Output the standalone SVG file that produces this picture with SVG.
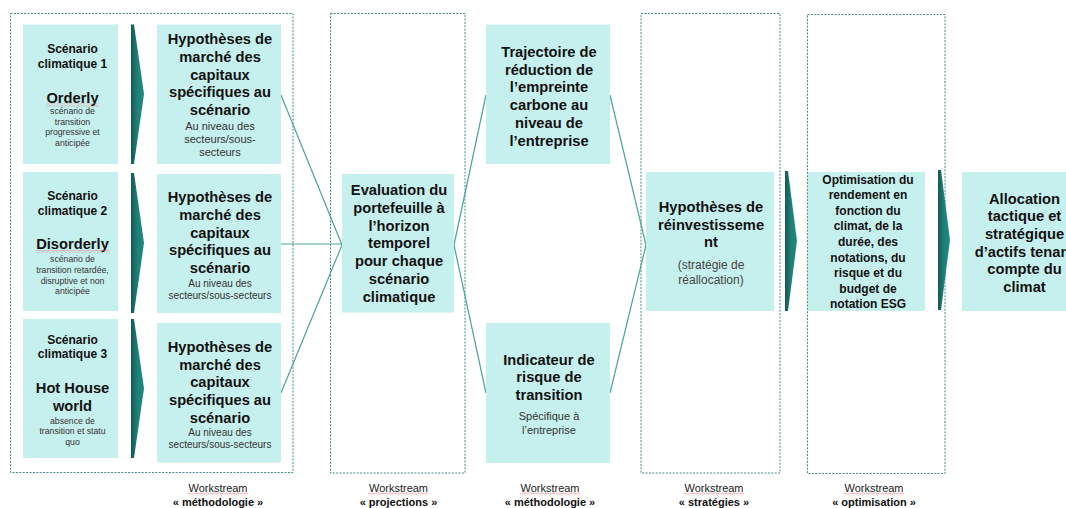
<svg xmlns="http://www.w3.org/2000/svg" width="1066" height="508" viewBox="0 0 1066 508">
<style>
text{font-family:"Liberation Sans",Arial,sans-serif;text-anchor:middle;fill:#111}
.b{font-weight:bold;font-size:14.7px}
.s{font-weight:bold;font-size:12px}
.t{font-size:8.7px;fill:#333}
.m{font-size:11px;fill:#333}
.m10{font-size:10px;fill:#333}
.g{font-size:12px;fill:#444}
.box{fill:#c6f0ee}
.ws{fill:none;stroke:#3f8a86;stroke-width:1;stroke-dasharray:2 1.4}
.w1{font-size:11px;fill:#222}
.w2{font-size:11px;font-weight:bold;fill:#111}
.con{stroke:#4aa39c;stroke-width:1.2;fill:none}
.chev{fill:url(#cg)}
.sq{fill:url(#sq)}
</style>
<defs>
<linearGradient id="cg" x1="0" y1="0" x2="1" y2="0">
<stop offset="0" stop-color="#135a54"/>
<stop offset="0.5" stop-color="#1f8077"/>
<stop offset="1" stop-color="#22897f"/>
</linearGradient>
<pattern id="sq" width="4" height="3" patternUnits="userSpaceOnUse">
<path d="M0 2.5 L2 0.5 L4 2.5" fill="none" stroke="#e06060" stroke-width="0.7"/>
</pattern>
</defs>
<rect width="1066" height="508" fill="#fff"/>

<g id="workstreams">
<rect class="ws" x="10.5" y="13.5" width="282.5" height="459"/>
<rect class="ws" x="330.5" y="13.5" width="134.5" height="459.5"/>
<rect class="ws" x="641" y="13.5" width="139" height="459.5"/>
<rect class="ws" x="807.5" y="14.5" width="137.5" height="459"/>
</g>

<g id="connectors">
<line class="con" x1="281" y1="95" x2="342" y2="245"/>
<line class="con" x1="281" y1="244" x2="342" y2="244"/>
<line class="con" x1="281" y1="393" x2="342" y2="245"/>
<line class="con" x1="454" y1="245" x2="486" y2="95"/>
<line class="con" x1="454" y1="245" x2="486" y2="393"/>
<line class="con" x1="610" y1="95" x2="646" y2="245"/>
<line class="con" x1="610" y1="393" x2="646" y2="245"/>
<polygon class="chev" points="131,24.5 134,24.5 144,94 134,164 131,164"/>
<polygon class="chev" points="131,173 134,173 144,243 134,313 131,313"/>
<polygon class="chev" points="131,319 134,319 144,388.5 134,458 131,458"/>
<polygon class="chev" points="785,171 788,171 797,241 788,311 785,311"/>
<polygon class="chev" points="938,170 941,170 950,240 941,310 938,310"/>
</g>

<g id="scenario1">
<rect class="box" x="23" y="24.5" width="95" height="139.5"/>
<text class="s" x="72.5" y="52.5">Scénario</text>
<text class="s" x="72.5" y="67.5">climatique 1</text>
<text class="b" x="72.5" y="102.5">Orderly</text>
<rect class="sq" x="46" y="103.5" width="53" height="3"/>
<text class="t" x="72.5" y="114">scénario de</text>
<text class="t" x="72.5" y="124.7">transition</text>
<text class="t" x="72.5" y="135.4">progressive et</text>
<text class="t" x="72.5" y="146.1">anticipée</text>
</g>

<g id="scenario2">
<rect class="box" x="23" y="172" width="95" height="139"/>
<text class="s" x="72.5" y="200">Scénario</text>
<text class="s" x="72.5" y="215">climatique 2</text>
<text class="b" x="72.5" y="249">Disorderly</text>
<rect class="sq" x="36" y="250" width="74" height="3"/>
<text class="t" x="72.5" y="262.3">scénario de</text>
<text class="t" x="72.5" y="273">transition retardée,</text>
<text class="t" x="72.5" y="283.7">disruptive et non</text>
<text class="t" x="72.5" y="294.4">anticipée</text>
</g>

<g id="scenario3">
<rect class="box" x="23" y="319" width="95" height="139"/>
<text class="s" x="72.5" y="343.5">Scénario</text>
<text class="s" x="72.5" y="358.3">climatique 3</text>
<text class="b" x="72.5" y="393.3">Hot House</text>
<text class="b" x="72.5" y="410.7">world</text>
<text class="t" x="72.5" y="423.7">absence de</text>
<text class="t" x="72.5" y="434.4">transition et statu</text>
<text class="t" x="72.5" y="445.1">quo</text>
</g>

<g id="hyp1">
<rect class="box" x="157" y="24.5" width="124" height="139.5"/>
<text class="b" x="220" y="44.3">Hypothèses de</text>
<text class="b" x="220" y="62">marché des</text>
<text class="b" x="220" y="79.7">capitaux</text>
<text class="b" x="220" y="97.4">spécifiques au</text>
<text class="b" x="220" y="115.1">scénario</text>
<text class="m" x="220" y="129.7">Au niveau des</text>
<text class="m" x="220" y="143">secteurs/sous-</text>
<text class="m" x="220" y="156.3">secteurs</text>
</g>

<g id="hyp2">
<rect class="box" x="157" y="174" width="124" height="139"/>
<text class="b" x="220" y="202.3">Hypothèses de</text>
<text class="b" x="220" y="220">marché des</text>
<text class="b" x="220" y="237.7">capitaux</text>
<text class="b" x="220" y="255.4">spécifiques au</text>
<text class="b" x="220" y="273.1">scénario</text>
<text class="m10" x="220" y="286.6">Au niveau des</text>
<text class="m10" x="220" y="298.6">secteurs/sous-secteurs</text>
</g>

<g id="hyp3">
<rect class="box" x="157" y="323" width="124" height="139.5"/>
<text class="b" x="220" y="352">Hypothèses de</text>
<text class="b" x="220" y="369.7">marché des</text>
<text class="b" x="220" y="387.4">capitaux</text>
<text class="b" x="220" y="405.1">spécifiques au</text>
<text class="b" x="220" y="422.8">scénario</text>
<text class="m10" x="220" y="436.2">Au niveau des</text>
<text class="m10" x="220" y="448.2">secteurs/sous-secteurs</text>
</g>

<g id="evaluation">
<rect class="box" x="342" y="174" width="112" height="138.5"/>
<text class="b" x="399" y="195.3">Evaluation du</text>
<text class="b" x="399" y="213">portefeuille à</text>
<text class="b" x="399" y="230.7">l’horizon</text>
<text class="b" x="399" y="248.4">temporel</text>
<text class="b" x="399" y="266.1">pour chaque</text>
<text class="b" x="399" y="283.8">scénario</text>
<text class="b" x="399" y="301.5">climatique</text>
</g>

<g id="trajectoire">
<rect class="box" x="486" y="24.5" width="124" height="139.5"/>
<text class="b" x="549" y="57">Trajectoire de</text>
<text class="b" x="549" y="74.7">réduction de</text>
<text class="b" x="549" y="92.4">l’empreinte</text>
<text class="b" x="549" y="110.1">carbone au</text>
<text class="b" x="549" y="127.8">niveau de</text>
<text class="b" x="549" y="145.5">l’entreprise</text>
</g>

<g id="indicateur">
<rect class="box" x="486" y="323" width="124" height="140"/>
<text class="b" x="549" y="364.6">Indicateur de</text>
<text class="b" x="549" y="382.3">risque de</text>
<text class="b" x="549" y="400">transition</text>
<text class="m" x="549" y="419.8">Spécifique à</text>
<text class="m" x="549" y="433.8">l’entreprise</text>
</g>

<g id="reinvestissement">
<rect class="box" x="646" y="172" width="128" height="139"/>
<text class="b" x="711" y="212">Hypothèses de</text>
<text class="b" x="711" y="229.7">réinvestisseme</text>
<text class="b" x="711" y="247.4">nt</text>
<text class="g" x="711" y="269.2">(stratégie de</text>
<text class="g" x="711" y="283.5">réallocation)</text>
</g>

<g id="optimisation">
<rect class="box" x="808" y="172" width="117" height="139"/>
<text class="s" x="868" y="183.5">Optimisation du</text>
<text class="s" x="868" y="199.1">rendement en</text>
<text class="s" x="868" y="214.7">fonction du</text>
<text class="s" x="868" y="230.3">climat, de la</text>
<text class="s" x="868" y="245.9">durée, des</text>
<text class="s" x="868" y="261.5">notations, du</text>
<text class="s" x="868" y="277.1">risque et du</text>
<text class="s" x="868" y="292.7">budget de</text>
<text class="s" x="868" y="308.3">notation ESG</text>
</g>

<g id="allocation">
<rect class="box" x="962" y="172" width="124" height="139"/>
<text class="b" x="1024.5" y="203.6">Allocation</text>
<text class="b" x="1024.5" y="221.3">tactique et</text>
<text class="b" x="1024.5" y="239">stratégique</text>
<text class="b" x="1024.5" y="256.7">d’actifs tenant</text>
<text class="b" x="1024.5" y="274.4">compte du</text>
<text class="b" x="1024.5" y="292.1">climat</text>
</g>

<g id="labels">
<text class="w1" x="218" y="491.7">Workstream</text>
<text class="w2" x="218" y="505.7">« méthodologie »</text>
<rect class="sq" x="188" y="492.5" width="60" height="3"/>
<text class="w1" x="398.5" y="491.7">Workstream</text>
<text class="w2" x="398.5" y="505.7">« projections »</text>
<rect class="sq" x="368" y="492.5" width="60" height="3"/>
<text class="w1" x="550" y="491.7">Workstream</text>
<text class="w2" x="550" y="505.7">« méthodologie »</text>
<rect class="sq" x="520" y="492.5" width="60" height="3"/>
<text class="w1" x="714" y="491.7">Workstream</text>
<text class="w2" x="714" y="505.7">« stratégies »</text>
<rect class="sq" x="684" y="492.5" width="60" height="3"/>
<text class="w1" x="874" y="491.7">Workstream</text>
<text class="w2" x="874" y="505.7">« optimisation »</text>
<rect class="sq" x="844" y="492.5" width="60" height="3"/>
</g>
</svg>
